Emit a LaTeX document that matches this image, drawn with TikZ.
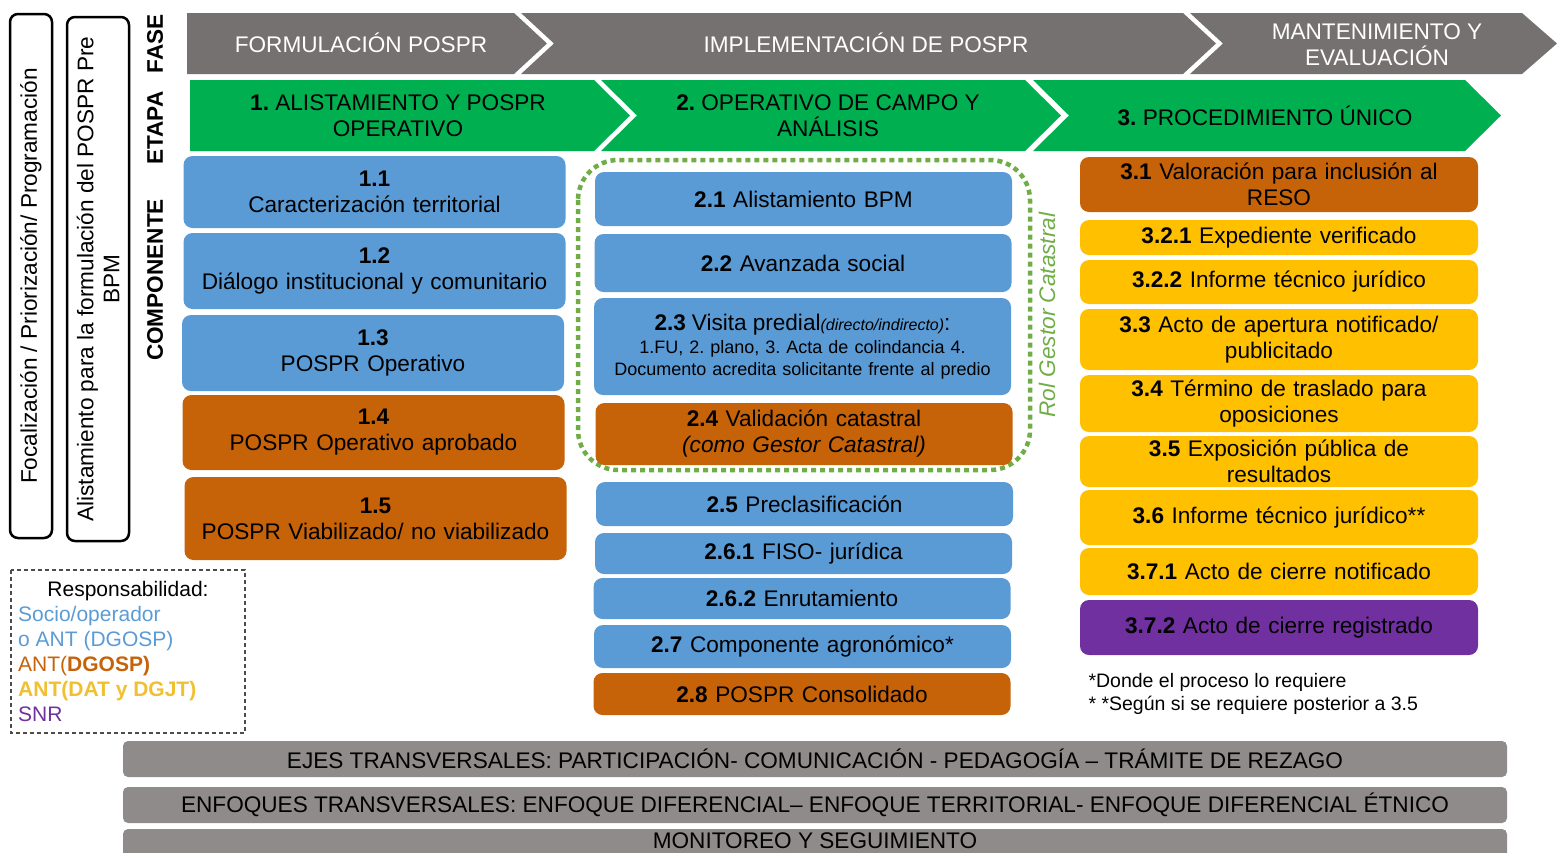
\documentclass[tikz,border=0pt]{standalone}
\usepackage{fontspec}
\setmainfont{Liberation Sans}
\frenchspacing
\newcommand{\fuente}{\fontsize{22.6}{26}\selectfont}
\newcommand{\chica}{\fontsize{18}{22}\selectfont}
\newcommand{\nota}{\fontsize{19.5}{23}\selectfont}
\definecolor{grisfase}{RGB}{118,113,113}
\definecolor{grisbarra}{RGB}{143,139,139}
\definecolor{verdeetapa}{RGB}{0,176,80}
\definecolor{verdepunto}{RGB}{112,173,71}
\definecolor{azul}{RGB}{91,155,213}
\definecolor{naranja}{RGB}{198,98,8}
\definecolor{amarillo}{RGB}{255,192,0}
\definecolor{amarilloley}{RGB}{240,192,48}
\definecolor{morado}{RGB}{112,48,160}
\begin{document}
\begin{tikzpicture}[x=1pt,y=-1pt,
  caja/.style={fill=#1, rounded corners=9pt, align=center, inner sep=1pt, font=\fuente},
  col1/.style={caja=#1, minimum width=382, text width=370},
  col2/.style={caja=#1, minimum width=417, text width=410},
  col3/.style={caja=#1, minimum width=398, text width=390},
  rotulo/.style={rotate=90, font=\fuente\bfseries},
  vertical/.style={draw, rotate=90, rounded corners=8pt, line width=2.5pt, align=center, font=\fuente},
  barra/.style={fill=grisbarra, rounded corners=5pt, minimum width=1384, font=\fuente},
  ley/.style={anchor=base west, inner sep=0pt, font=\fontsize{21}{25}\selectfont}]
\useasboundingbox (0,0) rectangle (1557,852);
\clip (0,0) rectangle (1557,852);
% cajas verticales de la izquierda
\node[vertical, minimum width=524, minimum height=42] (foco) at (31,276) {Focalización / Priorización/ Programación};
\node[vertical, minimum width=524, minimum height=62] (alist) at (98,279) {Alistamiento para la formulación del POSPR Pre\\BPM};
\node[rotulo] (fase) at (155,44) {FASE};
\node[rotulo] (etapa) at (155,128) {ETAPA};
\node[rotulo] (compo) at (155,280) {COMPONENTE};
% fases
\fill[grisfase] (187,13)--(514,13)--(547,43.5)--(514,74)--(187,74)--cycle;
\fill[grisfase] (521,13)--(1183,13)--(1216,43.5)--(1183,74)--(521,74)--(554,43.5)--cycle;
\fill[grisfase] (1190,13)--(1522,13)--(1557,43.5)--(1522,74)--(1190,74)--(1223,43.5)--cycle;
\node[white, font=\fuente] (f1) at (361,43) {FORMULACIÓN POSPR};
\node[white, font=\fuente] (f2) at (866,43) {IMPLEMENTACIÓN DE POSPR};
\node[white, font=\fuente, align=center] (f3) at (1377,45) {MANTENIMIENTO Y\\EVALUACIÓN};
% etapas
\fill[verdeetapa] (190,80)--(594,80)--(630,115.5)--(594,151)--(190,151)--cycle;
\fill[verdeetapa] (601,80)--(1025,80)--(1061,115.5)--(1025,151)--(601,151)--(637,115.5)--cycle;
\fill[verdeetapa] (1033,80)--(1465,80)--(1501,115.5)--(1465,151)--(1033,151)--(1069,115.5)--cycle;
\node[font=\fuente, align=center] (e1) at (398,116) {\textbf{1.} ALISTAMIENTO Y POSPR\\OPERATIVO};
\node[font=\fuente, align=center] (e2) at (828,116) {\textbf{2.} OPERATIVO DE CAMPO Y\\ANÁLISIS};
\node[font=\fuente] (e3) at (1265,116) {\textbf{3.} PROCEDIMIENTO ÚNICO};
% componentes etapa 1
\node[col1=azul, minimum height=72] (c11) at (374.5,192) {\textbf{1.1}\\Caracterización territorial};
\node[col1=azul, minimum height=76] (c12) at (374.5,271) {\textbf{1.2}\\Diálogo institucional y comunitario};
\node[col1=azul, minimum height=76] (c13) at (373,353) {\textbf{1.3}\\POSPR Operativo};
\node[col1=naranja, minimum height=75] (c14) at (373.5,432.5) {\textbf{1.4}\\POSPR Operativo aprobado};
\node[col1=naranja, minimum height=83] (c15) at (375.5,518.5) {\textbf{1.5}\\POSPR Viabilizado/ no viabilizado};
% componentes etapa 2
\draw[verdepunto, line width=4.5pt, dash pattern=on 5pt off 4pt, rounded corners=40pt] (578,160) rectangle (1030,470);
\node[rotate=90, verdepunto, font=\fuente\itshape] (rol) at (1047,315) {Rol Gestor Catastral};
\node[col2=azul, minimum height=54] (c21) at (803.5,199) {\textbf{2.1} Alistamiento BPM};
\node[col2=azul, minimum height=58] (c22) at (803,263) {\textbf{2.2} Avanzada social};
\node[col2=azul, minimum height=97, font=\chica] (c23) at (802.5,346.5) {{\fuente\textbf{2.3} Visita predial}{\fontsize{16}{18}\selectfont\itshape(directo/indirecto)}{\fuente:}\\[1pt]1.FU, 2. plano, 3. Acta de colindancia 4.\\Documento acredita solicitante frente al predio};
\node[col2=naranja, minimum height=62] (c24) at (804,434) {\textbf{2.4} Validación catastral\\\textit{(como Gestor Catastral)}};
\node[col2=azul, minimum height=44] (c25) at (804.5,504) {\textbf{2.5} Preclasificación};
\node[col2=azul, minimum height=41] (c261) at (803.5,553.5) {\textbf{2.6.1} FISO- jurídica};
\node[col2=azul, minimum height=41] (c262) at (802,598.5) {\textbf{2.6.2} Enrutamiento};
\node[col2=azul, minimum height=43] (c27) at (802.5,646.5) {\textbf{2.7} Componente agronómico*};
\node[col2=naranja, minimum height=42] (c28) at (802,694) {\textbf{2.8} POSPR Consolidado};
% componentes etapa 3
\node[col3=naranja, minimum height=55] (c31) at (1279,184.5) {\textbf{3.1} Valoración para inclusión al\\RESO};
\node[col3=amarillo, minimum height=35] (c321) at (1279,237.5) {\textbf{3.2.1} Expediente verificado};
\node[col3=amarillo, minimum height=44] (c322) at (1279,282) {\textbf{3.2.2} Informe técnico jurídico};
\node[col3=amarillo, minimum height=61] (c33) at (1279,339.5) {\textbf{3.3} Acto de apertura notificado/\\publicitado};
\node[col3=amarillo, minimum height=57] (c34) at (1279,403.5) {\textbf{3.4} Término de traslado para\\oposiciones};
\node[col3=amarillo, minimum height=51] (c35) at (1279,461.5) {\textbf{3.5} Exposición pública de\\resultados};
\node[col3=amarillo, minimum height=55] (c36) at (1279,517.5) {\textbf{3.6} Informe técnico jurídico**};
\node[col3=amarillo, minimum height=47] (c371) at (1279,571.5) {\textbf{3.7.1} Acto de cierre notificado};
\node[col3=morado, minimum height=55] (c372) at (1279,627.5) {\textbf{3.7.2} Acto de cierre registrado};
\node[anchor=base west, font=\nota] (n1) at (1085,687) {*Donde el proceso lo requiere};
\node[anchor=base west, font=\nota] (n2) at (1085,710) {* *Según si se requiere posterior a 3.5};
% responsabilidad
\draw[black!70, dash pattern=on 4pt off 3pt, line width=1.2pt] (11,570) rectangle (245,733);
\node[ley, anchor=base] (resp) at (128,596) {Responsabilidad:};
\node[ley, azul] (l1) at (18,621) {Socio/operador};
\node[ley, azul] (l2) at (18,646) {o ANT (DGOSP)};
\node[ley, naranja] (l3) at (18,671) {ANT(\textbf{DGOSP)}};
\node[ley, amarilloley] (l4) at (18,696) {\textbf{ANT(DAT y DGJT)}};
\node[ley, morado] (l5) at (18,721) {SNR};
% ejes transversales
\node[barra, minimum height=36] (b1) at (815,759) {EJES TRANSVERSALES: PARTICIPACIÓN- COMUNICACIÓN - PEDAGOGÍA – TRÁMITE DE REZAGO};
\node[barra, minimum height=36] (b2) at (815,805) {ENFOQUES TRANSVERSALES: ENFOQUE DIFERENCIAL– ENFOQUE TERRITORIAL- ENFOQUE DIFERENCIAL ÉTNICO};
\fill[grisbarra, rounded corners=5pt] (123,829) rectangle (1507,870);
\node[font=\fuente] (b3) at (815,841) {MONITOREO Y SEGUIMIENTO};
\end{tikzpicture}
\end{document}
